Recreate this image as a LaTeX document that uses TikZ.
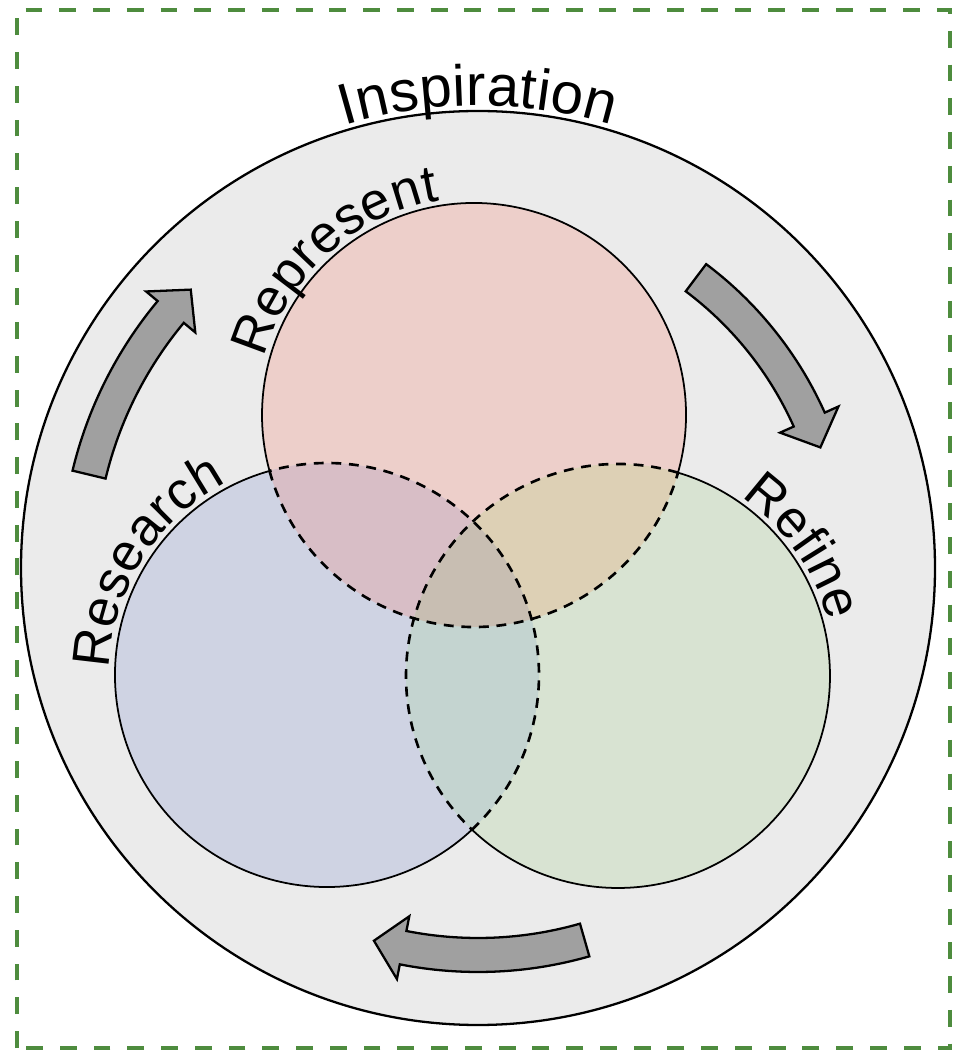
\documentclass[tikz,border=0pt]{standalone}
\usepackage{fontspec}
\setmainfont{Liberation Sans}
\usetikzlibrary{calc, decorations.text}

\definecolor{ringgray}{HTML}{EBEBEB}
\definecolor{repfill}{HTML}{EDCFCA}
\definecolor{resfill}{HTML}{CFD3E3}
\definecolor{reffill}{HTML}{D8E3D2}
\definecolor{represfill}{HTML}{D8BEC6}
\definecolor{repreffill}{HTML}{DDD0B5}
\definecolor{resreffill}{HTML}{C4D4D0}
\definecolor{corefill}{HTML}{C8BEB2}
\definecolor{arrowgray}{HTML}{A0A0A0}
\definecolor{framegreen}{HTML}{4E8C3E}

\newcommand\labelfont{\fontsize{16.5}{20}\selectfont}
\newcommand\rimfont{\fontsize{15}{18}\selectfont}

% curved block arrow: centre, radius, tail angle, tip angle (clockwise)
\newcommand\cyclearrow[4]{%
  \pgfmathsetmacro\headbase{#4+30/#2*57.3}%
  \pgfmathsetmacro\shaftout{#2+17}%
  \pgfmathsetmacro\shaftin{#2-17}%
  \pgfmathsetmacro\barbout{#2+32}%
  \pgfmathsetmacro\barbin{#2-32}%
  \draw[blockarrow] ($(#1)+(#3:\shaftout)$) arc[start angle=#3, end angle=\headbase, radius=\shaftout]
    -- ($(#1)+(\headbase:\barbout)$) -- ($(#1)+(#4:#2)$) -- ($(#1)+(\headbase:\barbin)$)
    -- ($(#1)+(\headbase:\shaftin)$) arc[start angle=\headbase, end angle=#3, radius=\shaftin] -- cycle;}

\begin{document}
\begin{tikzpicture}[
    x=0.01cm, y=0.01cm,
    frame/.style={draw=framegreen, line width=0.9pt, dash pattern=on 4.8pt off 4.8pt},
    ring/.style={draw=black, line width=0.65pt},
    rim/.style={draw=black, line width=0.5pt},
    lens/.style={draw=black, line width=0.75pt, dash pattern=on 2.8pt off 2.2pt},
    blockarrow/.style={fill=arrowgray, draw=black, line width=0.65pt},
    curvelabel/.style={decorate, decoration={text along path, text align=center, raise=1.5pt}}
  ]
  \useasboundingbox (0,0) rectangle (953,1051);
  \draw[frame] (17,3) rectangle (950,1041);

  % Centres
  \coordinate (inspiration) at (478,483);
  \coordinate (represent) at (474,636);
  \coordinate (research) at (327,376);
  \coordinate (refine) at (618,375);

  % Fills
  \fill[ringgray] (inspiration) circle[radius=457];
  \fill[repfill] (represent) circle[radius=212];
  \fill[resfill] (research) circle[radius=212];
  \fill[reffill] (refine) circle[radius=212];
  \begin{scope}
    \clip (represent) circle[radius=212];
    \fill[represfill] (research) circle[radius=212];
    \fill[repreffill] (refine) circle[radius=212];
  \end{scope}
  \begin{scope}
    \clip (research) circle[radius=212];
    \fill[resreffill] (refine) circle[radius=212];
  \end{scope}
  \begin{scope}
    \clip (represent) circle[radius=212];
    \clip (research) circle[radius=212];
    \fill[corefill] (refine) circle[radius=212];
  \end{scope}

  % Outlines
  \draw[ring] (inspiration) circle[radius=457];
  \draw[rim] (represent) ++(-15.8:212) arc[start angle=-15.8, end angle=195.3, radius=212];
  \draw[lens] (represent) ++(195.3:212) arc[start angle=195.3, end angle=344.2, radius=212];
  \draw[rim] (research) ++(105.7:212) arc[start angle=105.7, end angle=313.1, radius=212];
  \draw[lens] (research) ++(-46.9:212) arc[start angle=-46.9, end angle=105.7, radius=212];
  \draw[rim] (refine) ++(226.5:212) arc[start angle=226.5, end angle=433.6, radius=212];
  \draw[lens] (refine) ++(73.6:212) arc[start angle=73.6, end angle=226.5, radius=212];

  % Labels
  \path[curvelabel, decoration={text={|\labelfont|Inspiration}}]
    (inspiration) ++(150:457) arc[start angle=150, end angle=30, radius=457];
  \path[curvelabel, decoration={text={|\rimfont|Represent}}]
    (represent) ++(182:212) arc[start angle=182, end angle=82, radius=212];
  \path[curvelabel, decoration={text={|\rimfont|Research}}]
    (research) ++(198:212) arc[start angle=198, end angle=98, radius=212];
  \path[curvelabel, decoration={text={|\rimfont|Refine}}]
    (refine) ++(85:212) arc[start angle=85, end angle=-15, radius=212];

  % Cycle arrows
  \cyclearrow{inspiration}{400}{166.5}{135.9}
  \cyclearrow{inspiration}{363}{53.1}{19.4}
  \cyclearrow{inspiration}{387}{-74}{-105.6}
\end{tikzpicture}
\end{document}
